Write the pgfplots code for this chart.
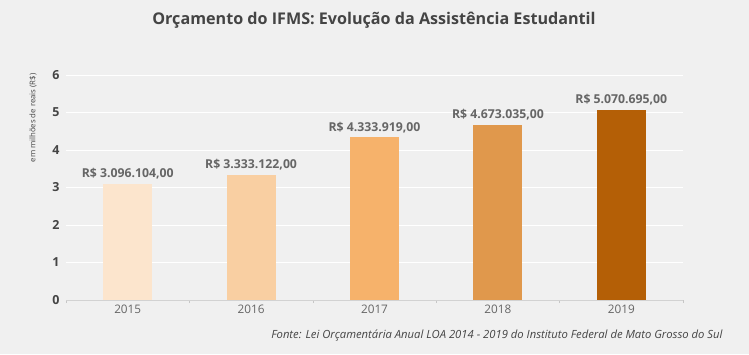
\documentclass[border=0pt]{standalone}
\usepackage{pgfplots}
\pgfplotsset{compat=1.18}
\usepackage{fontspec}
\setmainfont{Open Sans}
\definecolor{bg}{HTML}{F0F0F0}
\definecolor{txt}{HTML}{444444}
\definecolor{lbl}{HTML}{666666}
\definecolor{c1}{HTML}{FCE5CD}
\definecolor{c2}{HTML}{F9CFA2}
\definecolor{c3}{HTML}{F6B26B}
\definecolor{c4}{HTML}{E0984C}
\definecolor{c5}{HTML}{B45F06}
\begin{document}
\begin{tikzpicture}[x=1bp,y=1bp]
\fill[bg] (0,0) rectangle (749,354);
\useasboundingbox (0,0) rectangle (749,354);
\node[font=\fontsize{16.2}{18}\selectfont\bfseries, text=txt] at (374,334) {Orçamento do IFMS: Evolução da Assistência Estudantil};
\node[font=\fontsize{7.8}{9}\selectfont, text=txt, rotate=90] at (33,236) {em milhões de reais (R\$)};
\node[font=\fontsize{11.3}{13}\selectfont\itshape, text=txt, anchor=east] at (726,18) {Fonte: Lei Orçamentária Anual LOA 2014 - 2019 do Instituto Federal de Mato Grosso do Sul};
\begin{axis}[
  at={(66bp,54bp)}, anchor=south west,
  scale only axis, width=617bp, height=225bp,
  xmin=-0.5, xmax=4.5, ymin=0, ymax=6,
  ytick={0,1,...,6},
  xtick={0,1,2,3,4},
  xticklabels={2015,2016,2017,2018,2019},
  minor xtick={-0.5,0.5,1.5,2.5,3.5,4.5},
  major tick length=0pt,
  minor tick length=3bp,
  tick align=outside,
  tick style={draw=gray!45, line width=0.6pt},
  separate axis lines,
  axis x line*=bottom,
  axis y line*=left,
  y axis line style={draw=none},
  x axis line style={draw=gray!35, line width=0.8pt, -},
  ymajorgrids, grid style={draw=white, line width=1pt},
  /pgf/number format/assume math mode=true,
  yticklabel style={font=\fontsize{12.5}{14}\selectfont\bfseries, text=txt, xshift=-3bp},
  xticklabel style={font=\fontsize{11.8}{13}\selectfont, text=lbl, yshift=-1bp},
  ybar, bar width=49bp,
  point meta=explicit symbolic,
  nodes near coords={\pgfplotspointmeta},
  nodes near coords style={font=\fontsize{12.3}{14}\selectfont\bfseries, text=lbl, yshift=1bp},
  clip=false,
]
\addplot[fill=c1, draw=none, bar shift=0pt] coordinates {(0,3.096104) [R\$ 3.096.104,00]};
\addplot[fill=c2, draw=none, bar shift=0pt] coordinates {(1,3.333122) [R\$ 3.333.122,00]};
\addplot[fill=c3, draw=none, bar shift=0pt] coordinates {(2,4.333919) [R\$ 4.333.919,00]};
\addplot[fill=c4, draw=none, bar shift=0pt] coordinates {(3,4.673035) [R\$ 4.673.035,00]};
\addplot[fill=c5, draw=none, bar shift=0pt] coordinates {(4,5.070695) [R\$ 5.070.695,00]};
\end{axis}
\end{tikzpicture}
\end{document}
